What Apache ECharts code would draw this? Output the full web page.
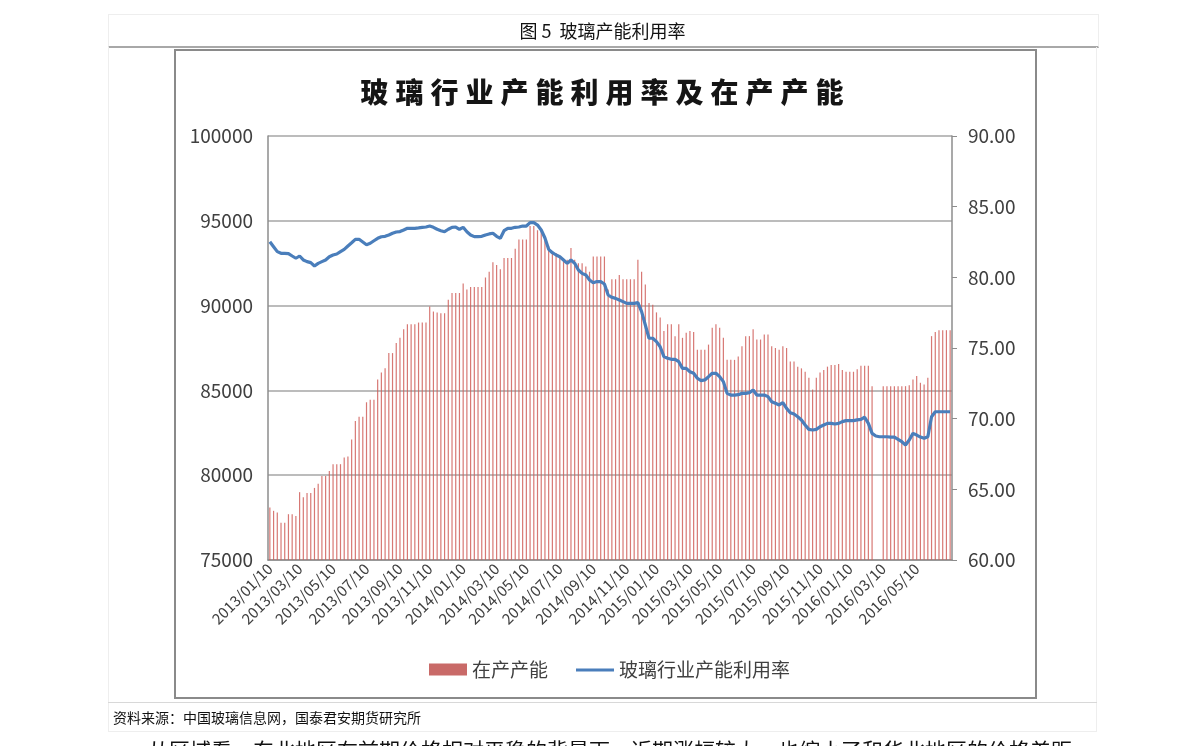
<!DOCTYPE html>
<html>
<head>
<meta charset="utf-8">
<script src="https://cdn.jsdelivr.net/npm/echarts@6/dist/echarts.min.js"></script>
<style>
  html, body { margin:0; padding:0; background:#fff; }
  body { width:1191px; height:746px; overflow:hidden; position:relative; font-family:"Noto Sans CJK SC","Noto Sans",sans-serif; }
  #chart { position:absolute; left:0; top:0; width:1191px; height:746px; }
  .ov { position:absolute; pointer-events:none; }
</style>
</head>
<body>
<div id="chart"></div>
<div class="ov" style="left:108px;top:14px;width:989px;height:31px;border-top:1px solid #eee;border-left:1px solid #eee;border-right:1px solid #eee;border-bottom:2px solid #a8a8a8;"></div>
<div class="ov" style="left:108px;top:14px;width:989px;height:33px;line-height:33px;text-align:center;font-size:18px;color:#111;">图 5&nbsp; 玻璃产能利用率</div>
<div class="ov" style="left:108px;top:47px;width:1px;height:684px;background:#eee;"></div>
<div class="ov" style="left:1096px;top:47px;width:1px;height:684px;background:#eee;"></div>
<div class="ov" style="left:174px;top:49px;width:859px;height:646px;border:2px solid #8a8a8a;"></div>
<div class="ov" style="left:176px;top:70px;width:859px;text-align:center;font-size:28px;font-weight:900;letter-spacing:7px;color:#151515;line-height:42px;">玻璃行业产能利用率及在产产能</div>
<div class="ov" style="left:108px;top:702px;width:989px;height:1px;background:#d8d8d8;"></div>
<div class="ov" style="left:113px;top:707px;font-size:14px;line-height:20px;color:#111;">资料来源：中国玻璃信息网，国泰君安期货研究所</div>
<div class="ov" style="left:108px;top:731px;width:989px;height:1px;background:#eee;"></div>
<div class="ov" style="left:148px;top:735px;font-size:21px;line-height:28px;color:#111;white-space:nowrap;">从区域看，东北地区在前期价格相对平稳的背景下，近期涨幅较大，也缩小了和华北地区的价格差距</div>
<script>
// 在产产能 (weekly, from 2013/01/10)
const capacity = [
 78100,77900,77800,77200,77200,77700,77700,77600,79000,78700,
 78950,78950,79250,79500,79950,79950,80250,80650,80650,80650,
 81050,81100,82100,83200,83450,83450,84300,84450,84450,85650,
 86050,86300,87200,87200,87800,88100,88600,
 88900,88900,88900,89000,89000,89000,89950,89650,89600,89550,
 89550,90350,90750,90750,90750,91300,90950,91100,91100,91100,
 91100,91650,92000,92550,92400,92150,92800,92800,92800,93350,
 93900,93900,93900,94700,94700,94450,
 94450,94100,93500,93200,93100,92900,92700,92700,93400,92700,
 92500,92500,92300,92000,92900,92900,92900,92900,90950,91550,
 91550,91800,91550,91550,91550,91550,92700,92000,91250,90150,
 90050,89600,89300,88500,88900,88900,88200,88900,88100,88400,
 88500,88450,87400,87400,87400,87700,88700,88900,88700,88100,
 86800,86800,86800,87000,87600,88200,88200,88600,88000,88000,
 88300,88300,87600,87500,87400,87600,87500,86700,86700,86400,
 86300,86100,85750,85050,85750,86050,86200,86400,86500,86500,
 86550,86200,86100,86100,86100,86250,86450,86450,86450,85250,
 null,null,85250,85250,85250,85250,85250,85250,85250,85300,
 85650,85850,85450,85350,85750,88200,88450,88550,88550,88550,
 88550
];
// 玻璃行业产能利用率 (%)
const utilization = [
 82.52,82.17,81.82,81.70,81.70,81.68,81.51,81.35,81.51,81.23,
 81.11,81.04,80.80,80.99,81.11,81.23,81.46,81.58,81.65,81.82,
 81.98,82.22,82.45,82.69,82.69,82.50,82.31,82.41,82.59,82.76,
 82.87,82.90,83.00,83.12,83.21,83.24,83.35,
 83.47,83.47,83.47,83.50,83.54,83.56,83.63,83.54,83.40,83.30,
 83.23,83.40,83.54,83.56,83.40,83.54,83.23,83.00,82.88,82.88,
 82.90,83.00,83.07,83.12,82.90,82.76,83.30,83.47,83.47,83.54,
 83.56,83.63,83.63,83.87,83.87,83.70,
 83.35,82.78,81.98,81.74,81.58,81.46,81.23,80.99,81.23,80.99,
 80.52,80.28,80.17,79.81,79.62,79.70,79.70,79.53,78.75,78.59,
 78.51,78.40,78.28,78.16,78.16,78.16,78.21,77.57,76.63,75.69,
 75.69,75.45,75.09,74.39,74.27,74.20,74.20,74.03,73.56,73.56,
 73.32,73.21,72.86,72.69,72.74,72.97,73.21,73.21,72.97,72.62,
 71.79,71.67,71.67,71.70,71.79,71.79,71.84,72.03,71.67,71.67,
 71.67,71.56,71.20,71.09,70.97,71.13,70.73,70.42,70.33,70.14,
 69.91,69.55,69.24,69.20,69.24,69.43,69.55,69.67,69.67,69.62,
 69.67,69.79,69.86,69.86,69.86,69.91,69.95,70.10,69.67,68.96,
 68.77,68.72,68.72,68.72,68.70,68.70,68.54,68.37,68.14,68.49,
 68.96,68.84,68.70,68.61,68.72,70.14,70.49,70.49,70.49,70.49,
 70.49
];
const tickLabels = [
 '2013/01/10','2013/03/10','2013/05/10','2013/07/10','2013/09/10','2013/11/10',
 '2014/01/10','2014/03/10','2014/05/10','2014/07/10','2014/09/10','2014/11/10',
 '2015/01/10','2015/03/10','2015/05/10','2015/07/10','2015/09/10','2015/11/10',
 '2016/01/10','2016/03/10','2016/05/10'
];
const seriesNames = ['在产产能', '玻璃行业产能利用率'];

const DAY = 86400000;
const start = Date.UTC(2013, 0, 10);
function fmt(t) {
  const d = new Date(t);
  const p = n => String(n).padStart(2, '0');
  return d.getUTCFullYear() + '/' + p(d.getUTCMonth() + 1) + '/' + p(d.getUTCDate());
}
const categories = capacity.map((_, i) => fmt(start + i * 7 * DAY));
const labelAt = {};
tickLabels.forEach(s => {
  const [y, m, d] = s.split('/').map(Number);
  const idx = Math.round((Date.UTC(y, m - 1, d) - start) / (7 * DAY));
  labelAt[idx] = s;
});

const font = '"Noto Sans CJK SC","Noto Sans",sans-serif';
const lineIcon = 'path://M0,0L0.01,0L0.01,0.01L0,0.01Z M0,5L40,5L40,8L0,8Z M0,12L0.01,12L0.01,12.01L0,12.01Z';
const chart = echarts.init(document.getElementById('chart'));
chart.setOption({
  animation: false,
  backgroundColor: 'transparent',
  textStyle: { fontFamily: font },
  grid: { left: 268, top: 136, width: 684, height: 424, containLabel: false },
  legend: {
    left: 424, top: 655,
    itemWidth: 38, itemHeight: 12, itemGap: 28,
    textStyle: { fontSize: 19, color: '#404040', fontFamily: font },
    data: [
      { name: seriesNames[0], icon: 'rect', itemStyle: { color: '#c0504d' } },
      { name: seriesNames[1], icon: lineIcon, itemStyle: { color: '#4a7ebb' } }
    ]
  },
  xAxis: {
    type: 'category',
    data: categories,
    boundaryGap: true,
    axisLine: { show: true, lineStyle: { color: '#8c8c8c', width: 1.5 } },
    axisTick: { show: false },
    axisLabel: {
      rotate: 45,
      interval: (i) => labelAt[i] !== undefined,
      formatter: (v, i) => labelAt[i] || '',
      fontSize: 15, color: '#404040', margin: 6
    },
    splitLine: { show: false }
  },
  yAxis: [
    {
      type: 'value', min: 75000, max: 100000, interval: 5000,
      axisLine: { show: true, lineStyle: { color: '#8c8c8c', width: 1.5 } },
      axisTick: { show: false },
      axisLabel: { fontSize: 19, color: '#404040', margin: 15, formatter: v => String(v) },
      splitLine: { show: true, lineStyle: { color: '#a6a6a6', width: 1.5 } }
    },
    {
      type: 'value', min: 60, max: 90, interval: 5,
      position: 'right',
      axisLine: { show: true, lineStyle: { color: '#8c8c8c', width: 1.5 } },
      axisTick: { show: true, inside: false, length: 5, lineStyle: { color: '#8c8c8c' } },
      axisLabel: { fontSize: 19, color: '#404040', margin: 16, formatter: v => v.toFixed(2) },
      splitLine: { show: false }
    }
  ],
  series: [
    {
      name: seriesNames[0], type: 'bar', yAxisIndex: 0,
      data: capacity, barWidth: 1.2,
      itemStyle: { color: '#d0605c', opacity: 0.85 }
    },
    {
      name: seriesNames[1], type: 'line', yAxisIndex: 1,
      data: utilization, symbol: 'none', showSymbol: false,
      lineStyle: { color: '#4a7ebb', width: 3.2 },
      itemStyle: { color: '#4a7ebb' }
    }
  ]
});
</script>
</body>
</html>
